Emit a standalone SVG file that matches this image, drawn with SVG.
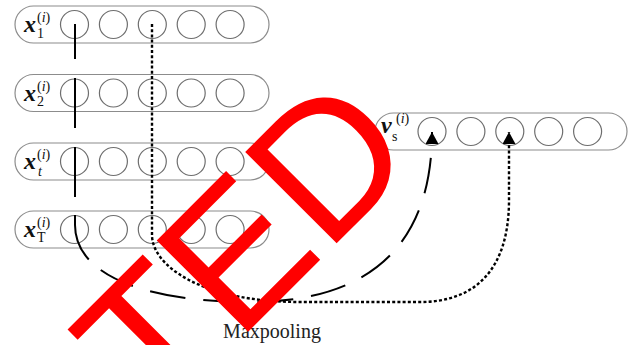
<svg xmlns="http://www.w3.org/2000/svg" width="633" height="345" viewBox="0 0 633 345">
<style>
.pill{fill:#fff;stroke:#8c8c8c;stroke-width:1.2}
.cell{fill:none;stroke:#6e6e6e;stroke-width:1.2}
.lbl{font-family:"Liberation Serif","Times New Roman",serif;font-size:24px;font-weight:bold;font-style:italic;fill:#111}
.sm{font-family:"Liberation Serif","Times New Roman",serif;font-size:14px;fill:#111}
.it{font-style:italic}
.dash{fill:none;stroke:#000;stroke-width:2}
.dot{fill:none;stroke:#000;stroke-width:2.4;stroke-dasharray:3 2.2}
.cap{font-family:"Liberation Serif","Times New Roman",serif;font-size:20px;fill:#222}
.stamp{font-family:"Liberation Sans",Arial,sans-serif;font-size:188px;fill:#ff0000}
</style>
<defs>
<marker id="ah" viewBox="0 0 12 13" refX="12" refY="6.5" markerWidth="12" markerHeight="13" markerUnits="userSpaceOnUse" orient="auto">
<path d="M0,0 L12,6.5 L0,13 z" fill="#000"/>
</marker>
<g id="cells">
<circle cx="0" cy="0" r="14" class="cell"/>
<circle cx="38.9" cy="0" r="14" class="cell"/>
<circle cx="77.8" cy="0" r="14" class="cell"/>
<circle cx="116.7" cy="0" r="14" class="cell"/>
<circle cx="155.6" cy="0" r="14" class="cell"/>
</g>
</defs>
<g id="row1">
<rect class="pill" x="15" y="6" width="254" height="37" rx="18.5"/>
<use href="#cells" x="74.5" y="24.5"/>
<text class="lbl" x="24" y="32">x</text>
<text class="sm" x="37" y="37.5">1</text>
<text class="sm" x="37" y="22">(<tspan class="it">i</tspan>)</text>
</g>
<g id="row2">
<rect class="pill" x="15" y="74.5" width="254" height="37" rx="18.5"/>
<use href="#cells" x="74.5" y="93"/>
<text class="lbl" x="24" y="100.5">x</text>
<text class="sm" x="37" y="106">2</text>
<text class="sm" x="37" y="90.5">(<tspan class="it">i</tspan>)</text>
</g>
<g id="row3">
<rect class="pill" x="15" y="143" width="254" height="37" rx="18.5"/>
<use href="#cells" x="74.5" y="161.5"/>
<text class="lbl" x="24" y="169">x</text>
<text class="sm it" x="38" y="175.5">t</text>
<text class="sm" x="37" y="159">(<tspan class="it">i</tspan>)</text>
</g>
<g id="row4">
<rect class="pill" x="15" y="211" width="254" height="37" rx="18.5"/>
<use href="#cells" x="74.5" y="229.5"/>
<text class="lbl" x="24" y="237">x</text>
<text class="sm" x="37" y="241.5">T</text>
<text class="sm" x="37" y="227">(<tspan class="it">i</tspan>)</text>
</g>
<g id="vs">
<rect class="pill" x="375" y="113" width="252" height="37" rx="18.5"/>
<use href="#cells" x="432" y="131.5"/>
<text class="lbl" x="381" y="132.5">v</text>
<text class="sm" x="392" y="140.5">s</text>
<text class="sm" x="396" y="123">(<tspan class="it">i</tspan>)</text>
</g>
<g id="connectors">
<path class="dash" stroke-dasharray="35 19 50 19 50 18 48 16 36 18 36 18 36 18 36 18 36 18 36 18 36 18 36 18 36 18 36 18" d="M75,24 V225 C75,275 145,302 250,302 C350,302 432,262 432,132" marker-end="url(#ah)"/>
<path class="dot" d="M152,24 V235 C152,265 200,302 300,302 L420,302 C475,302 509,270 509,200 V132" marker-end="url(#ah)"/>
</g>
<text class="cap" x="272" y="338" text-anchor="middle">Maxpooling</text>
<text class="stamp" x="156" y="424" transform="rotate(-45 156 424)">TED</text>
</svg>
